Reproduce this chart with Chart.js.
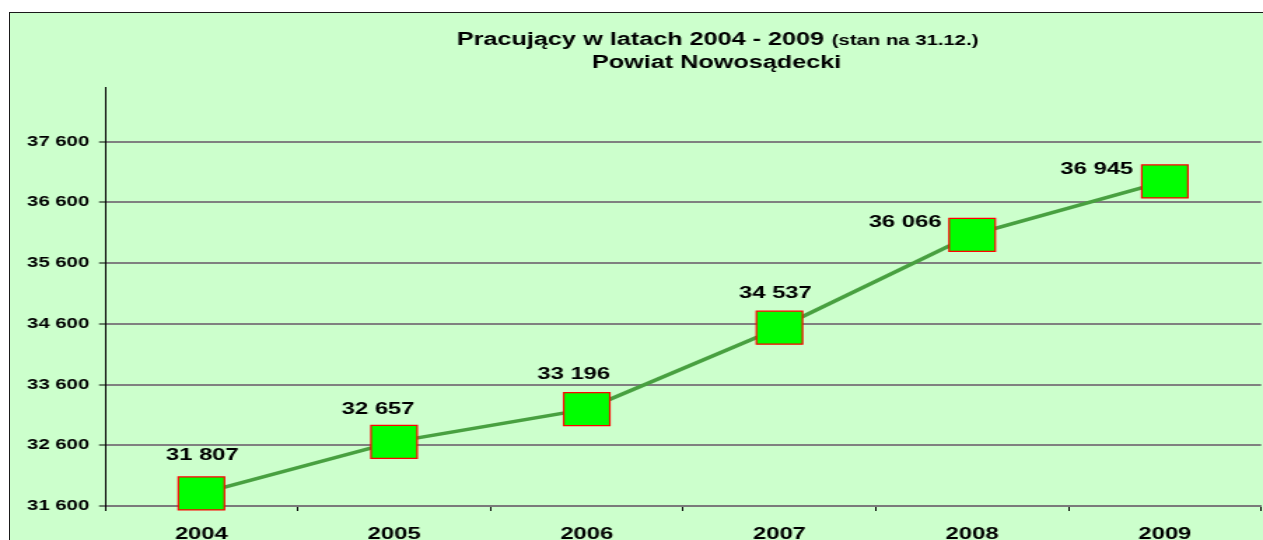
<!DOCTYPE html>
<html><head><meta charset="utf-8">
<script src="https://cdn.jsdelivr.net/npm/chart.js@4/dist/chart.umd.min.js"></script>
<style>
html,body{margin:0;padding:0;width:1263px;height:540px;overflow:hidden;background:#fff;}
#frame{position:absolute;left:9px;top:12px;width:1300px;height:600px;background:#CCFFCC;border:1px solid #1a1a1a;}
#c{position:absolute;left:0;top:0;}
</style></head><body>
<div id="frame"></div>
<canvas id="c" width="902" height="540" style="width:1263px;height:540px;"></canvas>
<script>
// ---- data ----
const years = ['2004', '2005', '2006', '2007', '2008', '2009'];
const employed = [31807, 32657, 33196, 34537, 36066, 36945];
const yTickValues = [31600, 32600, 33600, 34600, 35600, 36600, 37600];
const yMin = 31600;
const yMax = 38500;
const titleMain = 'Pracujący w latach 2004 - 2009';
const titleNote = ' (stan na 31.12.)';
const titleLine2 = 'Powiat Nowosądecki';

// ---- style ----
const FONT = "'Liberation Sans', Arial, sans-serif";
const labelShift = [[0.7, -38], [-11.4, -33], [-9.3, -35], [-2.9, -34], [-47.9, -12], [-48.6, -12]];
const fmt = v => String(v).replace(/\B(?=(\d{3})+(?!\d))/g, ' ');

const titlePlugin = {
  id: 'customTitle',
  afterDraw(chart) {
    const ctx = chart.ctx;
    const cx = 511.8;
    ctx.save();
    ctx.fillStyle = '#000';
    ctx.textBaseline = 'alphabetic';
    ctx.textAlign = 'left';
    const fMain = 'bold 18px ' + FONT;
    const fNote = 'bold 14.5px ' + FONT;
    ctx.font = fMain;
    const w1 = ctx.measureText(titleMain).width;
    ctx.font = fNote;
    const w2 = ctx.measureText(titleNote).width;
    let x = cx - (w1 + w2) / 2;
    ctx.font = fMain;
    ctx.fillText(titleMain, x, 45);
    ctx.font = fNote;
    ctx.fillText(titleNote, x + w1 + 1.5, 45);
    ctx.font = fMain;
    ctx.textAlign = 'center';
    ctx.fillText(titleLine2, cx, 68);
    ctx.restore();
  }
};

const valueLabels = {
  id: 'valueLabels',
  afterDatasetsDraw(chart) {
    const ctx = chart.ctx;
    const meta = chart.getDatasetMeta(0);
    ctx.save();
    ctx.font = 'bold 17px ' + FONT;
    ctx.fillStyle = '#000';
    ctx.textAlign = 'center';
    ctx.textBaseline = 'middle';
    meta.data.forEach((pt, i) => {
      const s = labelShift[i];
      ctx.fillText(fmt(employed[i]), pt.x + s[0], pt.y + s[1]);
    });
    ctx.restore();
  }
};

new Chart(document.getElementById('c'), {
  type: 'line',
  data: {
    labels: years,
    datasets: [{
      data: employed,
      borderColor: '#48A040',
      borderWidth: 3.5,
      tension: 0,
      pointStyle: 'rect',
      pointRadius: 23.3,
      pointHoverRadius: 23.3,
      pointBackgroundColor: '#00FF00',
      pointBorderColor: '#FF0000',
      pointBorderWidth: 1.2,
      clip: false
    }]
  },
  options: {
    responsive: false,
    animation: false,
    devicePixelRatio: 1,
    layout: { autoPadding: false, padding: { top: 87, right: 1.3, left: 0, bottom: 0 } },
    plugins: { legend: { display: false }, tooltip: { enabled: false }, title: { display: false } },
    scales: {
      x: {
        type: 'category',
        offset: true,
        grid: { offset: true, drawOnChartArea: false, drawTicks: true, tickLength: 5, tickColor: '#000', tickWidth: 1, color: '#000' },
        border: { display: true, color: '#7a7a7a', width: 2 },
        ticks: { font: { family: FONT, size: 17, weight: 'bold', lineHeight: 1 }, color: '#000', padding: 14.5, maxRotation: 0, autoSkip: false },
        afterFit: s => { s.height = 34; }
      },
      y: {
        min: yMin,
        max: yMax,
        afterBuildTicks: s => { s.ticks = yTickValues.map(v => ({ value: v })); },
        afterFit: s => { s.width = 75; },
        ticks: { callback: v => fmt(v), font: { family: FONT, size: 14.5, weight: 'bold' }, color: '#000', padding: 7, autoSkip: false },
        grid: { color: '#808080', lineWidth: 2, drawTicks: true, tickLength: 4.3, tickColor: '#000', tickWidth: 1 },
        border: { display: true, color: '#000', width: 1 }
      }
    }
  },
  plugins: [titlePlugin, valueLabels]
});
</script>
</body></html>
